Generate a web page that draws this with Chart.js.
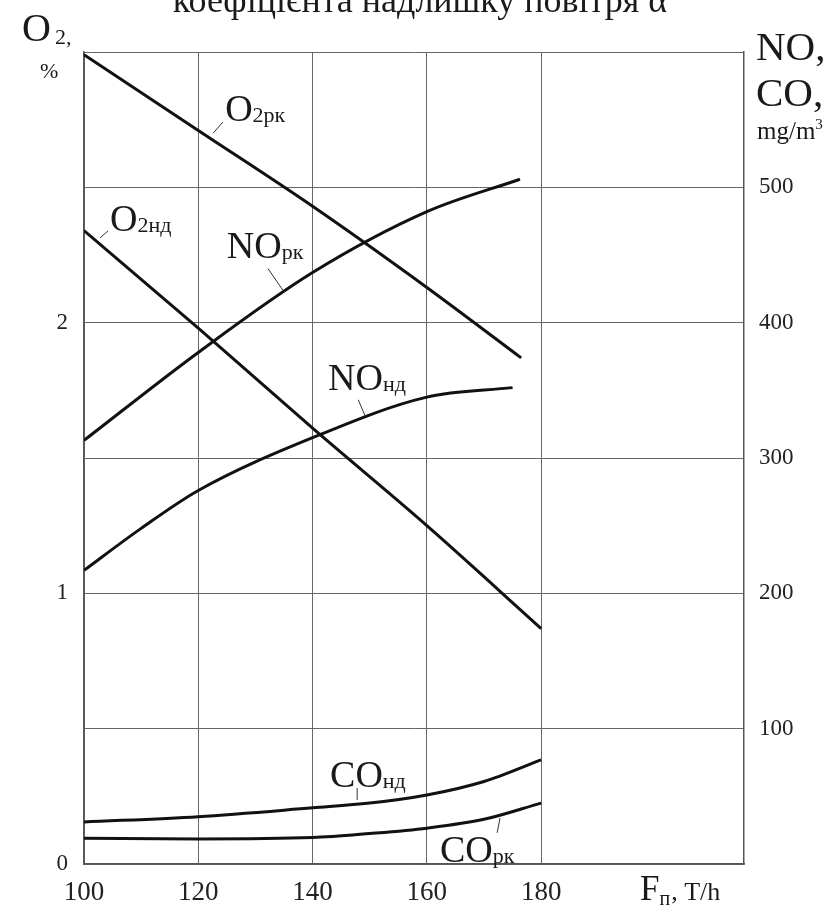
<!DOCTYPE html>
<html>
<head>
<meta charset="utf-8">
<script src="https://cdn.jsdelivr.net/npm/chart.js@4.4.1/dist/chart.umd.min.js"></script>
<style>
  html, body { margin: 0; padding: 0; background: #fff; }
  canvas { display: block; }
</style>
</head>
<body>
<canvas id="chart" width="837" height="909"></canvas>
<script>
// steam load Fп, T/h
const xTicks = [100, 120, 140, 160, 180]

// O2, % (left axis)
const o2rkX = [100, 120, 140, 160, 176.5]
const o2rk = [2.99, 2.71, 2.43, 2.13, 1.87]
const o2ndX = [100, 120, 140, 160, 180]
const o2nd = [2.34, 1.98, 1.61, 1.25, 0.87]

// NO, mg/m3 (right axis)
const norkX = [100, 120, 140, 160, 176.3]
const nork = [313, 378, 437, 482, 506]
const nondX = [100, 110, 120, 140, 160, 175]
const nond = [217, 248, 276, 315, 345, 352]

// CO, mg/m3 (right axis)
const coX = [100, 120, 140, 150, 160, 170, 180]
const cond = [31, 35, 41.5, 45, 51, 61, 77]
const cork = [19, 18.5, 19.5, 22.5, 26.5, 33, 45]

// curve captions: text spot + leader line, in data units
const curveLabels = [
  {main: 'O', sub: '2рк', axis: 'y', x: 124.7, y: 2.745, lead: [122.6, 2.70, 124.3, 2.741]},
  {main: 'O', sub: '2нд', axis: 'y', x: 104.55, y: 2.339, lead: [102.8, 2.313, 104.2, 2.339]},
  {main: 'NO', sub: 'рк', axis: 'y1', x: 125.0, y: 448, lead: [132.2, 440, 134.8, 424]},
  {main: 'NO', sub: 'нд', axis: 'y1', x: 142.7, y: 350, lead: [148.0, 343, 149.2, 331]},
  {main: 'CO', sub: 'нд', axis: 'y1', x: 143.06, y: 56.9, lead: [147.8, 56.2, 147.8, 47.3]},
  {main: 'CO', sub: 'рк', axis: 'y1', x: 162.3, y: 1.5, lead: [172.8, 34, 172.3, 23]}
]

const pts = (xs, ys) => xs.map((v, i) => ({x: v, y: ys[i]}))

function line(data, axis) {
  return {
    data: data,
    yAxisID: axis,
    borderColor: '#111',
    borderWidth: 3,
    pointRadius: 0,
    fill: false,
    cubicInterpolationMode: 'monotone'
  }
}

const serif = '"Liberation Serif", "Times New Roman", serif'

const textPlugin = {
  id: 'texts',
  afterDraw(chart) {
    const ctx = chart.ctx
    const {x, y, y1} = chart.scales
    ctx.save()
    ctx.fillStyle = '#1a1a1a'
    ctx.textBaseline = 'alphabetic'

    curveLabels.forEach(l => {
      const sy = l.axis === 'y1' ? y1 : y
      const px = x.getPixelForValue(l.x)
      const py = sy.getPixelForValue(l.y)
      ctx.font = '38px ' + serif
      ctx.textAlign = 'left'
      ctx.fillText(l.main, px, py)
      const w = ctx.measureText(l.main).width
      ctx.font = '22px ' + serif
      ctx.fillText(l.sub, px + w, py + 1)
      ctx.strokeStyle = '#333'
      ctx.lineWidth = 1
      ctx.beginPath()
      ctx.moveTo(x.getPixelForValue(l.lead[0]), sy.getPixelForValue(l.lead[1]))
      ctx.lineTo(x.getPixelForValue(l.lead[2]), sy.getPixelForValue(l.lead[3]))
      ctx.stroke()
    })

    // cut-off title at the very top
    ctx.textAlign = 'center'
    ctx.font = '36px ' + serif
    ctx.fillText('коефіцієнта надлишку повітря α', 420, 12)

    // left axis title
    ctx.textAlign = 'left'
    ctx.font = '40px ' + serif
    ctx.fillText('O', 22, 41)
    ctx.font = '22px ' + serif
    ctx.fillText('2,', 55, 44)
    ctx.fillText('%', 40, 78)

    // right axis title
    ctx.font = '41px ' + serif
    ctx.fillText('NO,', 756, 60)
    ctx.fillText('CO,', 756, 106)
    ctx.font = '25px ' + serif
    ctx.fillText('mg/m', 757, 139)
    const mw = ctx.measureText('mg/m').width
    ctx.font = '15px ' + serif
    ctx.fillText('3', 757 + mw, 129)

    // x axis title
    ctx.font = '35px ' + serif
    ctx.fillText('F', 640, 900)
    const fw = ctx.measureText('F').width
    ctx.font = '20px ' + serif
    ctx.fillText('п', 640 + fw, 905)
    const pw = ctx.measureText('п').width
    ctx.font = '26px ' + serif
    ctx.fillText(', T/h', 640 + fw + pw + 1, 900)
    ctx.restore()
  }
}

new Chart(document.getElementById('chart'), {
  type: 'line',
  data: {
    datasets: [
      line(pts(o2rkX, o2rk), 'y'),
      line(pts(o2ndX, o2nd), 'y'),
      line(pts(norkX, nork), 'y1'),
      line(pts(nondX, nond), 'y1'),
      line(pts(coX, cond), 'y1'),
      line(pts(coX, cork), 'y1')
    ]
  },
  options: {
    responsive: false,
    devicePixelRatio: 1,
    animation: false,
    layout: {padding: {top: 52, left: 0, right: 0, bottom: 0}},
    plugins: {legend: {display: false}, tooltip: {enabled: false}},
    scales: {
      x: {
        type: 'linear',
        min: 100,
        max: 215.5,
        afterBuildTicks: axis => { axis.ticks = xTicks.map(v => ({value: v})) },
        afterFit: s => { s.height = 45 },
        grid: {color: '#666', lineWidth: 1, drawTicks: false},
        border: {color: '#555', width: 1.5},
        ticks: {color: '#222', padding: 13, maxRotation: 0, font: {family: serif, size: 27}}
      },
      y: {
        position: 'left',
        min: 0,
        max: 3,
        afterFit: s => { s.width = 84 },
        grid: {color: '#666', lineWidth: 1, drawTicks: false},
        border: {color: '#555', width: 1.5},
        ticks: {
          stepSize: 0.5,
          color: '#222',
          padding: 16,
          font: {family: serif, size: 23},
          callback: v => (Number.isInteger(v) && v < 3) ? v : ''
        }
      },
      y1: {
        position: 'right',
        min: 0,
        max: 600,
        afterFit: s => { s.width = 93 },
        grid: {display: false, drawTicks: false},
        border: {color: '#555', width: 1.5},
        ticks: {
          stepSize: 100,
          color: '#222',
          padding: 15,
          font: {family: serif, size: 23},
          callback: v => (v > 0 && v < 600) ? v : ''
        }
      }
    }
  },
  plugins: [textPlugin]
})
</script>
</body>
</html>
